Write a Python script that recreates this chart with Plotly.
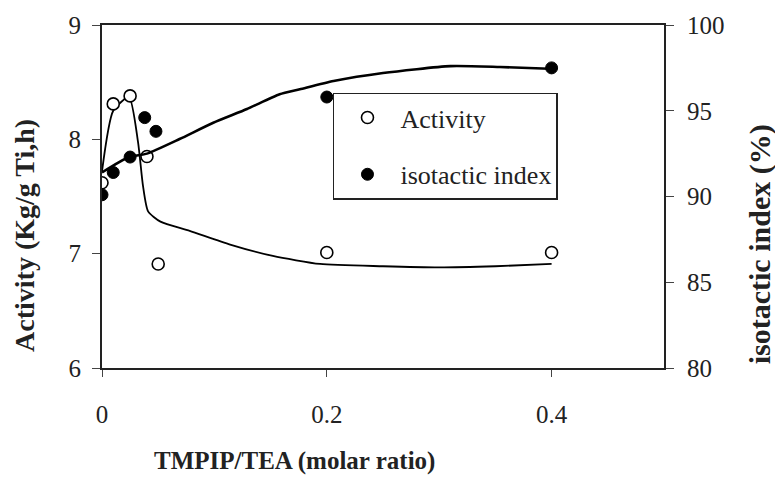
import plotly.graph_objects as go

# ---- data ----
ratio_pts = [0.0, 0.01, 0.025, 0.04, 0.05, 0.2, 0.4]
activity = [7.62, 8.31, 8.38, 7.85, 6.91, 7.01, 7.01]
iso_ratio = [0.0, 0.01, 0.025, 0.038, 0.048, 0.2, 0.4]
isotactic = [90.1, 91.4, 92.3, 94.6, 93.8, 95.8, 97.5]

# hand-drawn trend curves
act_curve_x = [0.0, 0.01, 0.024, 0.032, 0.0365, 0.041, 0.052, 0.078, 0.114, 0.152, 0.194, 0.25, 0.3, 0.35, 0.4]
act_curve_y = [7.72, 8.25, 8.37, 7.98, 7.59, 7.37, 7.28, 7.20, 7.08, 6.98, 6.91, 6.89, 6.88, 6.89, 6.91]
iso_curve_x = [0.0, 0.024, 0.04, 0.069, 0.099, 0.129, 0.158, 0.176, 0.206, 0.25, 0.31, 0.354, 0.398]
iso_curve_y = [91.4, 92.3, 92.5, 93.35, 94.3, 95.1, 95.96, 96.25, 96.73, 97.2, 97.6, 97.55, 97.45]

x_ticks = [0, 0.2, 0.4]
x_tick_text = ["0", "0.2", "0.4"]
y1_ticks = [6, 7, 8, 9]
y2_ticks = [80, 85, 90, 95, 100]

FONT = "Liberation Serif"

fig = go.Figure()
fig.add_trace(go.Scatter(x=act_curve_x, y=act_curve_y, mode="lines", yaxis="y",
                         line=dict(color="black", width=1.8, shape="spline", smoothing=0.6),
                         showlegend=False, hoverinfo="skip"))
fig.add_trace(go.Scatter(x=iso_curve_x, y=iso_curve_y, mode="lines", yaxis="y2",
                         line=dict(color="black", width=2.6, shape="spline", smoothing=0.6),
                         showlegend=False, hoverinfo="skip"))
fig.add_trace(go.Scatter(x=ratio_pts, y=activity, mode="markers", name="Activity", yaxis="y",
                         legendgroup="a",
                         marker=dict(symbol="circle", size=12, color="white",
                                     line=dict(color="black", width=1.6))))
fig.add_trace(go.Scatter(x=iso_ratio, y=isotactic, mode="markers", name="isotactic index", yaxis="y2",
                         legendgroup="b",
                         marker=dict(symbol="circle", size=12, color="black",
                                     line=dict(color="black", width=1))))

fig.update_layout(
    width=775, height=481,
    margin=dict(l=102, r=111, t=22, b=113),
    paper_bgcolor="white", plot_bgcolor="white",
    font=dict(family=FONT, color="#222", size=24),
    xaxis=dict(range=[0, 0.5], tickvals=x_ticks, ticktext=x_tick_text,
               showline=True, linecolor="#222", linewidth=2, mirror=True,
               ticks="outside", ticklen=7, tickcolor="#444", showgrid=False, zeroline=False,
               tickfont=dict(size=25), ticklabelstandoff=16),
    yaxis=dict(range=[6, 9], tickvals=y1_ticks, showline=True, linecolor="#222", linewidth=2,
               ticks="outside", ticklen=8, tickcolor="#444", showgrid=False, zeroline=False,
               tickfont=dict(size=25), ticklabelstandoff=6),
    yaxis2=dict(range=[80, 100], tickvals=y2_ticks, overlaying="y", side="right",
                showline=True, linecolor="#222", linewidth=2,
                ticks="outside", ticklen=8, tickcolor="#444", showgrid=False, zeroline=False,
                tickfont=dict(size=25), ticklabelstandoff=8),
    legend=dict(x=0.411, y=0.803, xanchor="left", yanchor="top",
                bordercolor="#222", borderwidth=1.5, bgcolor="white",
                font=dict(size=26, family=FONT), tracegroupgap=20,
                itemwidth=56, entrywidth=174, entrywidthmode="pixels"),
    showlegend=True,
    annotations=[
        dict(text="<b>TMPIP/TEA (molar ratio)</b>", xref="paper", yref="paper",
             x=0.342, y=-0.272, showarrow=False, font=dict(size=25, family=FONT),
             xanchor="center", yanchor="middle"),
        dict(text="<b>Activity (Kg/g Ti,h)</b>", xref="paper", yref="paper",
             x=-0.137, y=0.385, showarrow=False, textangle=-90, font=dict(size=28, family=FONT),
             xanchor="center", yanchor="middle"),
        dict(text="<b>isotactic index (%)</b>", xref="paper", yref="paper",
             x=1.171, y=0.361, showarrow=False, textangle=-90, font=dict(size=30, family=FONT),
             xanchor="center", yanchor="middle"),
    ],
)

fig.write_html("out.html")
